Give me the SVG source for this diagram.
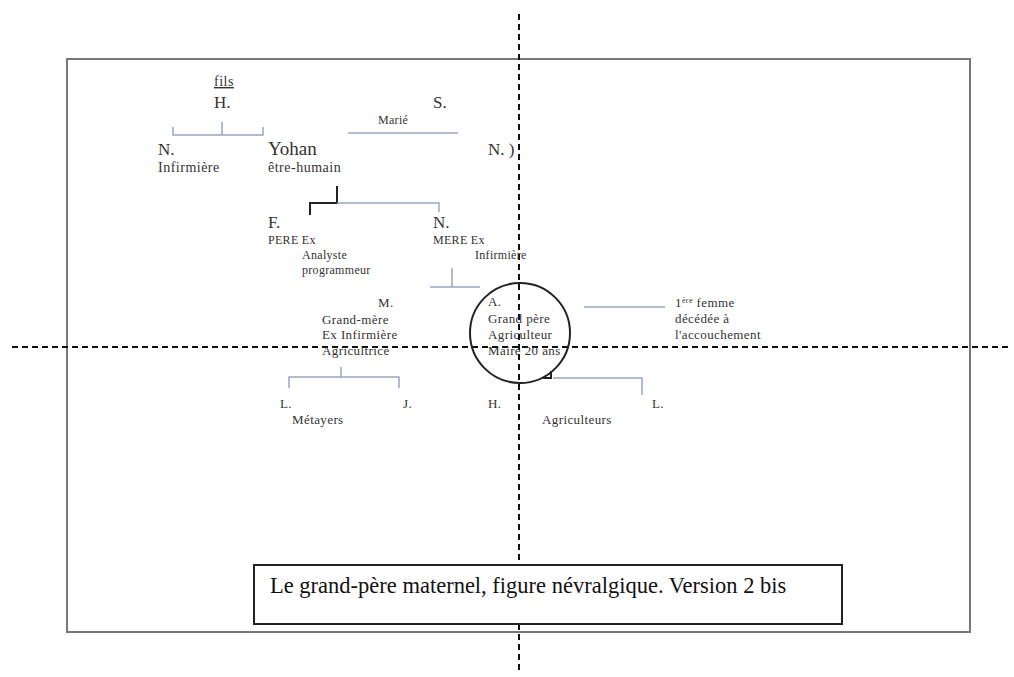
<svg xmlns="http://www.w3.org/2000/svg" width="1014" height="677" viewBox="0 0 1014 677">
<style>
.t{font-family:"Liberation Serif","Times New Roman",serif;fill:#333}
.b{font-size:17px}
.m{font-size:14px;letter-spacing:0.5px}
.s{font-size:13px;letter-spacing:0.4px}
.xs{font-size:12px;letter-spacing:0.3px}
.c{fill:none;stroke:#98a6c4;stroke-width:1.5}
.k{fill:none;stroke:#222;stroke-width:2}
.d{fill:none;stroke:#111;stroke-width:2;stroke-dasharray:6 4}
</style>
<rect x="0" y="0" width="1014" height="677" fill="#fff"/>
<rect id="frame" x="67" y="59" width="903" height="573" fill="none" stroke="#777" stroke-width="2"/>
<g id="axes">
<line class="d" x1="519" y1="14" x2="519" y2="672"/>
<line class="d" x1="12" y1="347" x2="1010" y2="347"/>
</g>
<g id="connectors">
<path class="c" d="M173 127 V135 H263 V127 M222 122 V135"/>
<path class="c" d="M348 133 H458"/>
<path class="k" d="M337 186 V203 H310 V215"/>
<path class="c" d="M337 203 H439 V212"/>
<path class="c" d="M452 268 V287 M430 287 H480"/>
<path class="c" d="M341 367 V377 M289 388 V377 H399 V388"/>
<path class="c" d="M584 307 H665"/>
<path class="c" d="M553 378 H642 V395"/>
<path class="k" d="M551 371 V378 H543" stroke-width="1.5"/>
</g>
<g id="n-fils"><text class="t m" x="214" y="86" text-decoration="underline">fils</text><text class="t b" x="214" y="108">H.</text></g>
<g id="n-s"><text class="t b" x="433" y="108">S.</text><text class="t xs" x="378" y="124">Marié</text></g>
<g id="n-n1"><text class="t b" x="158" y="155">N.</text><text class="t m" x="158" y="172">Infirmière</text></g>
<g id="n-yohan"><text class="t" style="font-size:19px" x="268" y="155">Yohan</text><text class="t m" x="268" y="172">être-humain</text></g>
<g id="n-n2"><text class="t b" x="488" y="155">N. )</text></g>
<g id="n-f"><text class="t b" x="268" y="228">F.</text><text class="t xs" x="268" y="244">PERE Ex</text><text class="t xs" x="302" y="259">Analyste</text><text class="t xs" x="302" y="274">programmeur</text></g>
<g id="n-n3"><text class="t b" x="433" y="228">N.</text><text class="t xs" x="433" y="244">MERE  Ex</text><text class="t xs" x="475" y="259">Infirmière</text></g>
<g id="n-m"><text class="t s" x="378" y="307">M.</text><text class="t s" x="322" y="324">Grand-mère</text><text class="t s" x="322" y="339">Ex Infirmière</text><text class="t s" x="322" y="355">Agricultrice</text></g>
<g id="n-a"><circle cx="520" cy="333" r="50" fill="none" stroke="#222" stroke-width="2"/><text class="t s" x="488" y="306">A.</text><text class="t s" x="488" y="323">Grand père</text><text class="t s" x="488" y="339">Agriculteur</text><text class="t s" x="488" y="355">Maire 20 ans</text></g>
<g id="n-femme"><text class="t s" x="675" y="307">1<tspan style="font-size:8px" dy="-4">ère</tspan><tspan dy="4"> femme</tspan></text><text class="t s" x="675" y="323">décédée à</text><text class="t s" x="675" y="339">l'accouchement</text></g>
<g id="n-l1"><text class="t s" x="280" y="408">L.</text><text class="t s" x="292" y="424">Métayers</text></g>
<g id="n-j"><text class="t s" x="403" y="408">J.</text></g>
<g id="n-h"><text class="t s" x="488" y="408">H.</text></g>
<g id="n-l2"><text class="t s" x="652" y="408">L.</text><text class="t s" x="542" y="424">Agriculteurs</text></g>
<g id="title"><rect x="254" y="565" width="588" height="59" fill="#fff" stroke="#222" stroke-width="2"/><text class="t" style="font-size:22.5px;fill:#111" x="270" y="593">Le grand-père maternel, figure névralgique. Version 2 bis</text></g>
</svg>
